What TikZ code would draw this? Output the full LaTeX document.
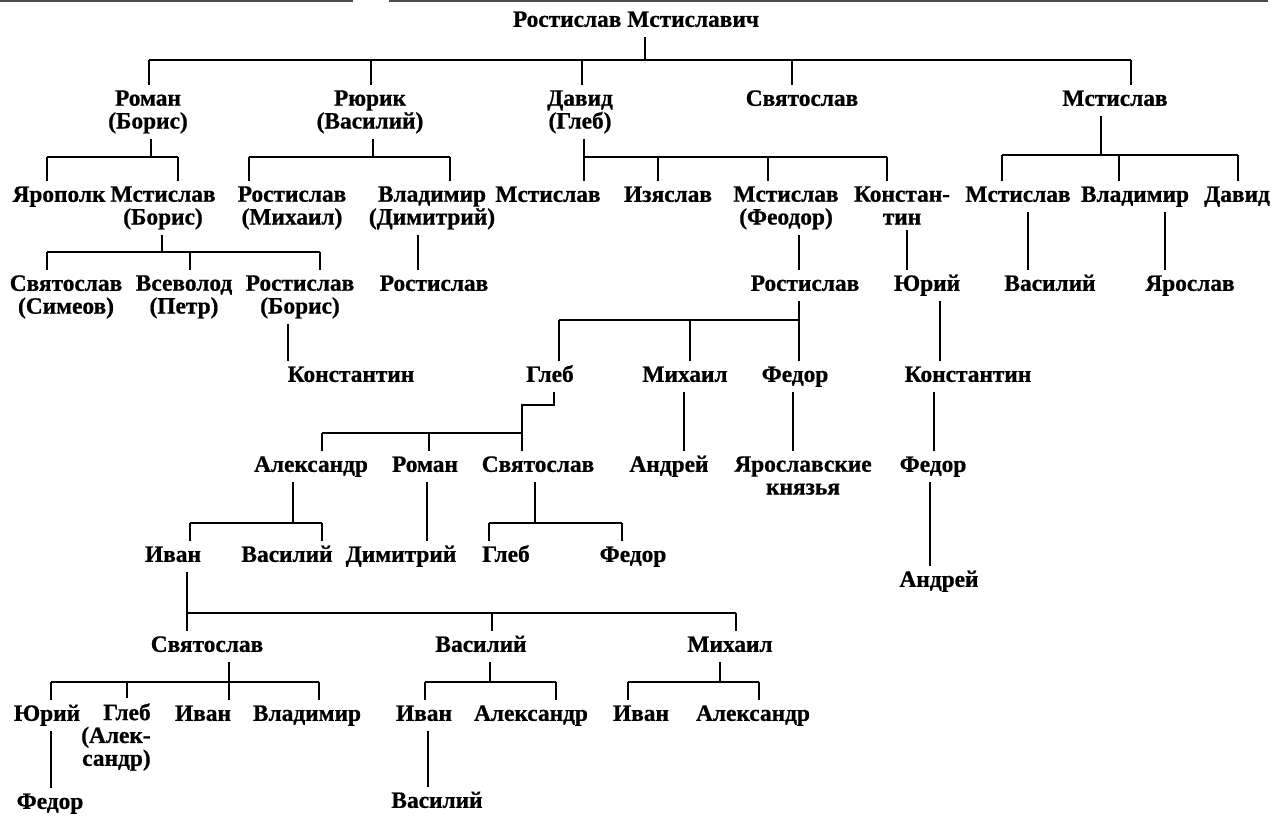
\documentclass[tikz,border=0pt]{standalone}
\usepackage{xcolor}
\usepackage{fontspec}
\setmainfont{Liberation Serif}
\newfontfamily\kinfont{Liberation Serif}[BoldFeatures = {FakeBold = 0.8}]
\usepackage{tikz}
\tikzset{ 
royal/.style = { font = \kinfont\bfseries\fontsize{13.3}{13}\selectfont, anchor = north, inner sep = 2.5pt },
person/.style = { royal, text height = 8.8pt, text depth = 2.8pt },
person lines/.style = { royal, align = center },
side person/.style = { royal, anchor = north east, align = right },
page rule/.style = { draw = black!70, line width = 0.6pt },
}

\begin{document}
\begin{tikzpicture}[x = 0.02cm, y = -0.02cm, line width = 1.1pt]
      \useasboundingbox (0, 0) rectangle (1274, 815);
      \draw[page rule] (0, 1) -- (353, 1);
      \draw[page rule] (389, 1) -- (1268, 1);
      % names
      \node[person] (rost) at (636, 6) {Ростислав Мстиславич};
      \node[person lines] (roman) at (148, 85) {Роман\\(Борис)};
      \node[person lines] (ryurik) at (370, 85) {Рюрик\\(Василий)};
      \node[person lines] (david) at (580, 85) {Давид\\(Глеб)};
      \node[person] (svyatoslav) at (802, 85) {Святослав};
      \node[person] (mstislav) at (1115, 85) {Мстислав};
      \node[person] (yaropolk) at (59, 181) {Ярополк};
      \node[person lines] (mstislavB) at (163, 181) {Мстислав\\(Борис)};
      \node[person lines] (rostislavM) at (292, 181) {Ростислав\\(Михаил)};
      \node[person lines] (vladimirD) at (432, 181) {Владимир\\(Димитрий)};
      \node[person] (mstislavD) at (548, 181) {Мстислав};
      \node[person] (izyaslav) at (668, 181) {Изяслав};
      \node[person lines] (mstislavF) at (786, 181) {Мстислав\\(Феодор)};
      \node[person lines] (konstantinD) at (902, 181) {Констан-\\тин};
      \node[person] (mstislavM) at (1018, 181) {Мстислав};
      \node[person] (vladimirM) at (1135, 181) {Владимир};
      \node[person] (davidM) at (1237, 181) {Давид};
      \node[person lines] (svyatoslavS) at (66, 270) {Святослав\\(Симеов)};
      \node[person lines] (vsevolod) at (184, 270) {Всеволод\\(Петр)};
      \node[person lines] (rostislavB) at (300, 270) {Ростислав\\(Борис)};
      \node[person] (rostislavV) at (434, 270) {Ростислав};
      \node[person] (rostislavF) at (805, 270) {Ростислав};
      \node[person] (yuriK) at (927, 270) {Юрий};
      \node[person] (vasilyM) at (1050, 270) {Василий};
      \node[person] (yaroslav) at (1190, 270) {Ярослав};
      \node[person] (konstantinR) at (351, 361) {Константин};
      \node[person] (glebR) at (550, 361) {Глеб};
      \node[person] (mikhailR) at (685, 361) {Михаил};
      \node[person] (fedorR) at (795, 361) {Федор};
      \node[person] (konstantinY) at (968, 361) {Константин};
      \node[person] (aleksandrG) at (311, 451) {Александр};
      \node[person] (romanG) at (425, 451) {Роман};
      \node[person] (svyatoslavG) at (538, 451) {Святослав};
      \node[person] (andreyM) at (669, 451) {Андрей};
      \node[person lines] (knyazya) at (803, 451) {Ярославские\\князья};
      \node[person] (fedorK) at (933, 451) {Федор};
      \node[person] (ivanA) at (173, 541) {Иван};
      \node[person] (vasilyA) at (287, 541) {Василий};
      \node[person] (dimitryR) at (401, 541) {Димитрий};
      \node[person] (glebS) at (506, 541) {Глеб};
      \node[person] (fedorS) at (633, 541) {Федор};
      \node[person] (andreyF) at (939, 566) {Андрей};
      \node[person] (svyatoslavI) at (207, 631) {Святослав};
      \node[person] (vasilyI) at (481, 631) {Василий};
      \node[person] (mikhailI) at (730, 631) {Михаил};
      \node[person] (yuriS) at (47, 700) {Юрий};
      \node[side person] (glebA) at (156, 698) {Глеб\\(Алек-\\сандр)};
      \node[person] (ivanS) at (203, 700) {Иван};
      \node[person] (vladimirS) at (307, 700) {Владимир};
      \node[person] (ivanV) at (424, 700) {Иван};
      \node[person] (aleksandrV) at (531, 700) {Александр};
      \node[person] (ivanM) at (641, 700) {Иван};
      \node[person] (aleksandrM) at (753, 700) {Александр};
      \node[person] (fedorY) at (50, 788) {Федор};
      \node[person] (vasilyV) at (437, 787) {Василий};
      % Ростислав Мстиславич
      \draw (rost.south -| 645, 0) -- (645, 60);
      \draw (149, 60) -- (1131, 60);
      \draw (149, 60) -- (roman.north -| 149, 0);
      \draw (371, 60) -- (ryurik.north -| 371, 0);
      \draw (582, 60) -- (david.north -| 582, 0);
      \draw (792, 60) -- (svyatoslav.north -| 792, 0);
      \draw (1131, 60) -- (mstislav.north -| 1131, 0);
      % Роман
      \draw (roman.south -| 151, 0) -- (151, 157);
      \draw (47, 157) -- (178, 157);
      \draw (47, 157) -- (yaropolk.north -| 47, 0);
      \draw (178, 157) -- (mstislavB.north -| 178, 0);
      % Рюрик
      \draw (ryurik.south -| 373, 0) -- (373, 157);
      \draw (249, 157) -- (450, 157);
      \draw (249, 157) -- (rostislavM.north -| 249, 0);
      \draw (450, 157) -- (vladimirD.north -| 450, 0);
      % Давид
      \draw (david.south -| 584, 0) -- (584, 157);
      \draw (584, 157) -- (887, 157);
      \draw (584, 157) -- (mstislavD.north -| 584, 0);
      \draw (658, 157) -- (izyaslav.north -| 658, 0);
      \draw (768, 157) -- (mstislavF.north -| 768, 0);
      \draw (887, 157) -- (konstantinD.north -| 887, 0);
      % Мстислав
      \draw (mstislav.south -| 1101, 0) -- (1101, 155);
      \draw (1002, 155) -- (1238, 155);
      \draw (1002, 155) -- (mstislavM.north -| 1002, 0);
      \draw (1119, 155) -- (vladimirM.north -| 1119, 0);
      \draw (1238, 155) -- (davidM.north -| 1238, 0);
      % Мстислав (Борис)
      \draw (mstislavB.south -| 162, 0) -- (162, 252);
      \draw (47, 252) -- (320, 252);
      \draw (47, 252) -- (svyatoslavS.north -| 47, 0);
      \draw (190, 252) -- (vsevolod.north -| 190, 0);
      \draw (320, 252) -- (rostislavB.north -| 320, 0);
      % one son
      \draw (vladimirD.south -| 418, 0) -- (rostislavV.north -| 418, 0);
      \draw (mstislavF.south -| 799, 0) -- (rostislavF.north -| 799, 0);
      \draw (konstantinD.south -| 907, 0) -- (yuriK.north -| 907, 0);
      \draw (mstislavM.south -| 1028, 0) -- (vasilyM.north -| 1028, 0);
      \draw (vladimirM.south -| 1165, 0) -- (yaroslav.north -| 1165, 0);
      \draw (rostislavB.south -| 288, 0) -- (konstantinR.north -| 288, 0);
      \draw (yuriK.south -| 940, 0) -- (konstantinY.north -| 940, 0);
      \draw (mikhailR.south -| 684, 0) -- (andreyM.north -| 684, 0);
      \draw (fedorR.south -| 793, 0) -- (knyazya.north -| 793, 0);
      \draw (konstantinY.south -| 934, 0) -- (fedorK.north -| 934, 0);
      \draw (fedorK.south -| 930, 0) -- (andreyF.north -| 930, 0);
      \draw (romanG.south -| 427, 0) -- (dimitryR.north -| 427, 0);
      \draw (yuriS.south -| 51, 0) -- (fedorY.north -| 51, 0);
      \draw (ivanV.south -| 428, 0) -- (vasilyV.north -| 428, 0);
      % Ростислав Мстиславич (Феодор)
      \draw (rostislavF.south -| 799, 0) -- (fedorR.north -| 799, 0);
      \draw (559, 320) -- (799, 320);
      \draw (559, 320) -- (glebR.north -| 559, 0);
      \draw (690, 320) -- (mikhailR.north -| 690, 0);
      % Глеб
      \draw (glebR.south -| 554, 0) |- (522, 405) -- (svyatoslavG.north -| 522, 0);
      \draw (322, 433) -- (522, 433);
      \draw (322, 433) -- (aleksandrG.north -| 322, 0);
      \draw (429, 433) -- (romanG.north -| 429, 0);
      % Александр
      \draw (aleksandrG.south -| 293, 0) -- (293, 523);
      \draw (190, 523) -- (322, 523);
      \draw (190, 523) -- (ivanA.north -| 190, 0);
      \draw (322, 523) -- (vasilyA.north -| 322, 0);
      % Святослав
      \draw (svyatoslavG.south -| 535, 0) -- (535, 523);
      \draw (489, 523) -- (622, 523);
      \draw (489, 523) -- (glebS.north -| 489, 0);
      \draw (622, 523) -- (fedorS.north -| 622, 0);
      % Иван
      \draw (ivanA.south -| 187, 0) -- (svyatoslavI.north -| 187, 0);
      \draw (187, 613) -- (736, 613);
      \draw (492, 613) -- (vasilyI.north -| 492, 0);
      \draw (736, 613) -- (mikhailI.north -| 736, 0);
      % Святослав Иванович
      \draw (svyatoslavI.south -| 229, 0) -- (229, 682);
      \draw (51, 682) -- (319, 682);
      \draw (51, 682) -- (yuriS.north -| 51, 0);
      \draw (127, 682) -- (glebA.north -| 127, 0);
      \draw (229, 682) -- (ivanS.north -| 229, 0);
      \draw (319, 682) -- (vladimirS.north -| 319, 0);
      % Василий
      \draw (vasilyI.south -| 490, 0) -- (490, 682);
      \draw (425, 682) -- (556, 682);
      \draw (425, 682) -- (ivanV.north -| 425, 0);
      \draw (556, 682) -- (aleksandrV.north -| 556, 0);
      % Михаил
      \draw (mikhailI.south -| 720, 0) -- (720, 682);
      \draw (628, 682) -- (759, 682);
      \draw (628, 682) -- (ivanM.north -| 628, 0);
      \draw (759, 682) -- (aleksandrM.north -| 759, 0);
\end{tikzpicture}
\end{document}
